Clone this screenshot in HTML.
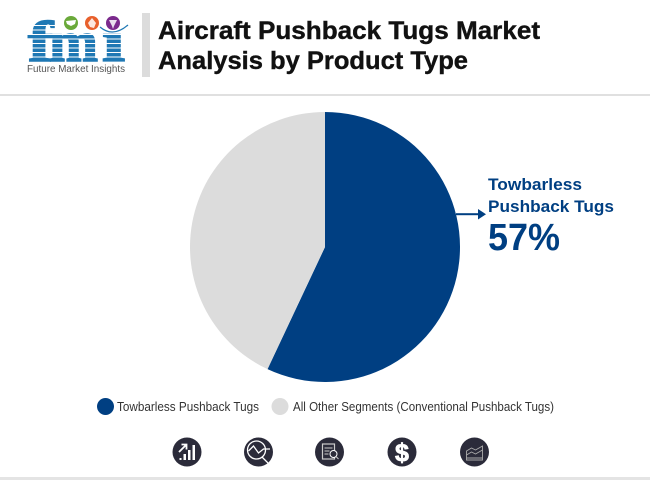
<!DOCTYPE html>
<html>
<head>
<meta charset="utf-8">
<style>
html,body{margin:0;padding:0;background:#fff;}
#stage{display:block;width:650px;height:480px;}
text{font-family:"Liberation Sans",sans-serif;}
.logo-letter{font-family:"Liberation Serif",serif;font-weight:700;font-size:57px;fill:#1f78b4;stroke:#1f78b4;stroke-width:1.6px;}
</style>
</head>
<body>
<svg id="stage" xmlns="http://www.w3.org/2000/svg" width="650" height="480" viewBox="0 0 650 480">
  <g>
    <text class="logo-letter" x="28" y="61" textLength="25" lengthAdjust="spacingAndGlyphs">f</text>
    <text class="logo-letter" x="49" y="61" textLength="49" lengthAdjust="spacingAndGlyphs">m</text>
    <text class="logo-letter" x="102" y="61" textLength="23" lengthAdjust="spacingAndGlyphs">i</text>
    <g fill="#fff">
      <rect x="26" y="25" width="104" height="1"/><rect x="26" y="29.500" width="104" height="1"/>
      <rect x="26" y="34" width="104" height="1"/><rect x="26" y="38.500" width="104" height="1"/>
      <rect x="26" y="43" width="104" height="1"/><rect x="26" y="47.500" width="104" height="1"/>
      <rect x="26" y="52" width="104" height="1"/><rect x="26" y="56.500" width="104" height="1"/>
    </g>
    <rect x="100" y="14" width="28" height="19" fill="#fff"/>
    <circle cx="71" cy="23" r="7" fill="#6aa93a"/>
    <path d="M66 21 L76 20 L75 24 L71 26 L67 24Z" fill="#fff"/>
    <circle cx="92" cy="23" r="7" fill="#e8602c"/>
    <path d="M92 18 L96 23 L94 28 L90 27 L88 23Z" fill="#fff" opacity=".85"/>
    <circle cx="113" cy="23" r="7" fill="#7b2a8c"/>
    <path d="M109 20 L117 20 L114 26 L113 29 L112 26Z" fill="#fff" opacity=".85"/>
    <path d="M100 27 Q113 38 128 25" fill="none" stroke="#1f78b4" stroke-width="1.2"/>
    <text x="27" y="72" font-size="10" fill="#555" textLength="98" lengthAdjust="spacingAndGlyphs">Future Market Insights</text>
  </g>
  <rect x="142" y="13" width="8" height="64" fill="#dcdcdc"/>
  <text x="158" y="39" font-size="25" font-weight="700" fill="#111" stroke="#111" stroke-width="0.4" textLength="382" lengthAdjust="spacingAndGlyphs">Aircraft Pushback Tugs Market</text>
  <text x="158" y="69" font-size="25" font-weight="700" fill="#111" stroke="#111" stroke-width="0.4" textLength="310" lengthAdjust="spacingAndGlyphs">Analysis by Product Type</text>
  <rect x="0" y="94" width="650" height="2" fill="#e0e0e0"/>
  <g id="pie"></g>
  <rect x="456" y="213.200" width="23" height="2" fill="#003f82"/>
  <path d="M478 209 L486 214.200 L478 219.500Z" fill="#003f82"/>
  <text x="488" y="190" font-size="17" font-weight="700" fill="#003f82" textLength="94" lengthAdjust="spacingAndGlyphs">Towbarless</text>
  <text x="488" y="212" font-size="17" font-weight="700" fill="#003f82" textLength="126" lengthAdjust="spacingAndGlyphs">Pushback Tugs</text>
  <text x="488" y="250" font-size="38" font-weight="700" fill="#003f82" textLength="72" lengthAdjust="spacingAndGlyphs">57%</text>
  <g>
    <circle cx="105.500" cy="406.500" r="8.500" fill="#003f82"/>
    <text x="117" y="411" font-size="12.500" fill="#333" textLength="142" lengthAdjust="spacingAndGlyphs">Towbarless Pushback Tugs</text>
    <circle cx="280" cy="406.500" r="8.500" fill="#dcdcdc"/>
    <text x="293" y="411" font-size="12.500" fill="#333" textLength="261" lengthAdjust="spacingAndGlyphs">All Other Segments (Conventional Pushback Tugs)</text>
  </g>
  <g>
    <g>
      <circle cx="187" cy="452" r="14.500" fill="#2b2b3a"/>
      <path d="M179.500 460h2v-2h-2zM183.500 460h2.500v-6h-2.500zM188 460h2.500v-10h-2.500zM192.500 460h2.500v-15h-2.500z" fill="#fff"/>
      <path d="M179 452 L186 445 M181.500 444.500 H186.500 V449.500" fill="none" stroke="#fff" stroke-width="1.8"/>
    </g>
    <g>
      <circle cx="258.500" cy="452" r="14.500" fill="#2b2b3a"/>
      <circle cx="256.500" cy="450" r="9" fill="none" stroke="#fff" stroke-width="1.3"/>
      <path d="M248.500 451 L253.500 446 L258.500 453 L263.500 449 H270 M262 457 L269 464" fill="none" stroke="#fff" stroke-width="1.3"/>
    </g>
    <g>
      <circle cx="329.500" cy="452" r="14.500" fill="#2b2b3a"/>
      <rect x="322.500" y="444" width="12" height="15" fill="none" stroke="#ccc" stroke-width="1.2"/>
      <path d="M324.500 448h8M324.500 451h5M324.500 454h4" stroke="#ccc" stroke-width="1"/>
      <circle cx="333.500" cy="454" r="3.500" fill="#2b2b3a" stroke="#fff" stroke-width="1"/>
      <path d="M336 456.500 L338.500 459" stroke="#ccc" stroke-width="1"/>
    </g>
    <g>
      <circle cx="402" cy="452" r="14.500" fill="#2b2b3a"/>
      <text x="402" y="461" text-anchor="middle" font-size="25" font-weight="700" fill="#fff" stroke="#fff" stroke-width="0.8">$</text>
    </g>
    <g>
      <circle cx="474.500" cy="452" r="14.500" fill="#2b2b3a"/>
      <path d="M466.500 460 V451 L471.500 448 L475.500 450 L482.500 446 V460Z M466.500 455 L471.500 452 L475.500 454 L482.500 450 M466.500 458 H482.500" fill="none" stroke="#aaa" stroke-width="0.9"/>
    </g>
  </g>
  <rect x="0" y="477" width="650" height="3" fill="#e4e4e4"/>
</svg>
<script>
const categories = ['Towbarless Pushback Tugs', 'All Other Segments'];
const shares = [57, 43];
const sliceColors = ['#003f82', '#dcdcdc'];
const cx = 325, cy = 247, radius = 135;
const pieGroup = document.getElementById('pie');
const total = shares.reduce(function (a, b) { return a + b; }, 0);
function angleOf(v) { return v / total * Math.PI * 2; }
function px(a) { return cx + radius * Math.sin(a); }
function py(a) { return cy - radius * Math.cos(a); }
let acc = 0;
shares.forEach(function (v, i) {
  const a0 = angleOf(acc);
  const a1 = angleOf(acc + v);
  acc += v;
  const large = a1 - a0 > Math.PI ? 1 : 0;
  const slice = document.createElementNS('http://www.w3.org/2000/svg', 'path');
  slice.setAttribute('d', 'M' + cx + ' ' + cy + ' L' + px(a0) + ' ' + py(a0) + ' A' + radius + ' ' + radius + ' 0 ' + large + ' 1 ' + px(a1) + ' ' + py(a1) + 'Z');
  slice.setAttribute('fill', sliceColors[i]);
  
  
  pieGroup.appendChild(slice);
});
</script>
</body>
</html>
